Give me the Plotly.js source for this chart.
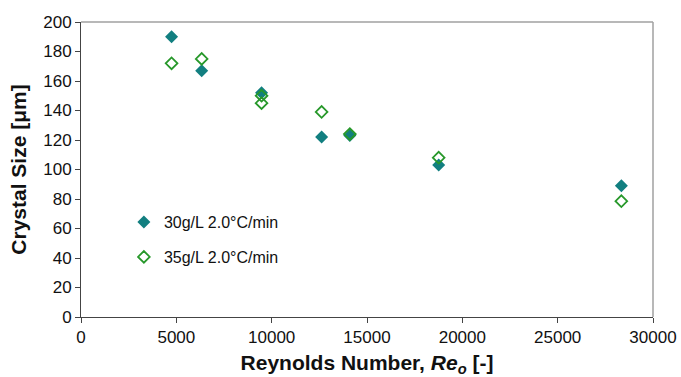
<!DOCTYPE html>
<html>
<head>
<meta charset="utf-8">
<script src="https://cdn.plot.ly/plotly-3.0.1.min.js"></script>
<style>html,body{margin:0;padding:0;background:#fff;}#chart{width:681px;height:377px;}</style>
</head>
<body>
<div id="chart"></div>
<script>
// Series 1: 30g/L 2.0°C/min (filled diamonds)
const re30 = [4750, 6330, 9470, 12620, 14100, 18760, 28340];
const size30 = [190, 167, 152, 122, 123, 103, 89];
// Series 2: 35g/L 2.0°C/min (open diamonds)
const re35 = [4750, 6330, 9470, 9470, 12620, 14100, 18760, 28340];
const size35 = [172, 175, 150, 145, 139, 124, 108, 78.5];
const seriesNames = ["30g/L 2.0°C/min", "35g/L 2.0°C/min"];
const xTicks = [0, 5000, 10000, 15000, 20000, 25000, 30000];
const yTicks = [0, 20, 40, 60, 80, 100, 120, 140, 160, 180, 200];

const traces = [
  {x: re30, y: size30, name: seriesNames[0], type: 'scatter', mode: 'markers', legendgroup: 'a',
   marker: {symbol: 'diamond', size: 10, color: '#127f80', line: {width: 0}}},
  {x: re35, y: size35, name: seriesNames[1], type: 'scatter', mode: 'markers', legendgroup: 'b',
   marker: {symbol: 'diamond-open', size: 9, color: '#27982a', line: {width: 1.8, color: '#27982a'}}}
];

const layout = {
  width: 681, height: 377,
  margin: {l: 81, r: 28, t: 22, b: 60},
  paper_bgcolor: '#fff', plot_bgcolor: '#fff',
  font: {family: 'Liberation Sans, Arial, sans-serif', color: '#111', size: 17},
  showlegend: true,
  legend: {x: 0.075, y: 0.379, xanchor: 'left', yanchor: 'top', bgcolor: 'rgba(0,0,0,0)',
           font: {size: 16}, tracegroupgap: 11, traceorder: 'grouped', itemwidth: 30},
  xaxis: {range: [0, 30000], tickvals: xTicks, ticktext: xTicks.map(String),
          showgrid: false, zeroline: false, showline: true, linecolor: '#444', linewidth: 1,
          ticks: 'outside', ticklen: 5, tickcolor: '#444', tickfont: {size: 17},
          title: {text: '<b>Reynolds Number, <i>Re</i><sub><i>o</i></sub> [-]</b>', font: {size: 21}, standoff: 11}},
  yaxis: {range: [0, 200], tickvals: yTicks, ticktext: yTicks.map(String),
          showgrid: false, zeroline: false, showline: true, linecolor: '#444', linewidth: 1,
          ticks: 'outside', ticklen: 5, tickcolor: '#444', tickfont: {size: 17},
          title: {text: '<b>Crystal Size [μm]</b>', font: {size: 21}, standoff: 10}},
  shapes: [
    {type: 'line', xref: 'paper', yref: 'paper', x0: 0, x1: 1, y0: 1, y1: 1, line: {color: '#a0a0a0', width: 1.5}},
    {type: 'line', xref: 'paper', yref: 'paper', x0: 1, x1: 1, y0: 0, y1: 1, line: {color: '#a0a0a0', width: 1.5}}
  ]
};

Plotly.newPlot('chart', traces, layout, {displayModeBar: false, staticPlot: true});
</script>
</body>
</html>
